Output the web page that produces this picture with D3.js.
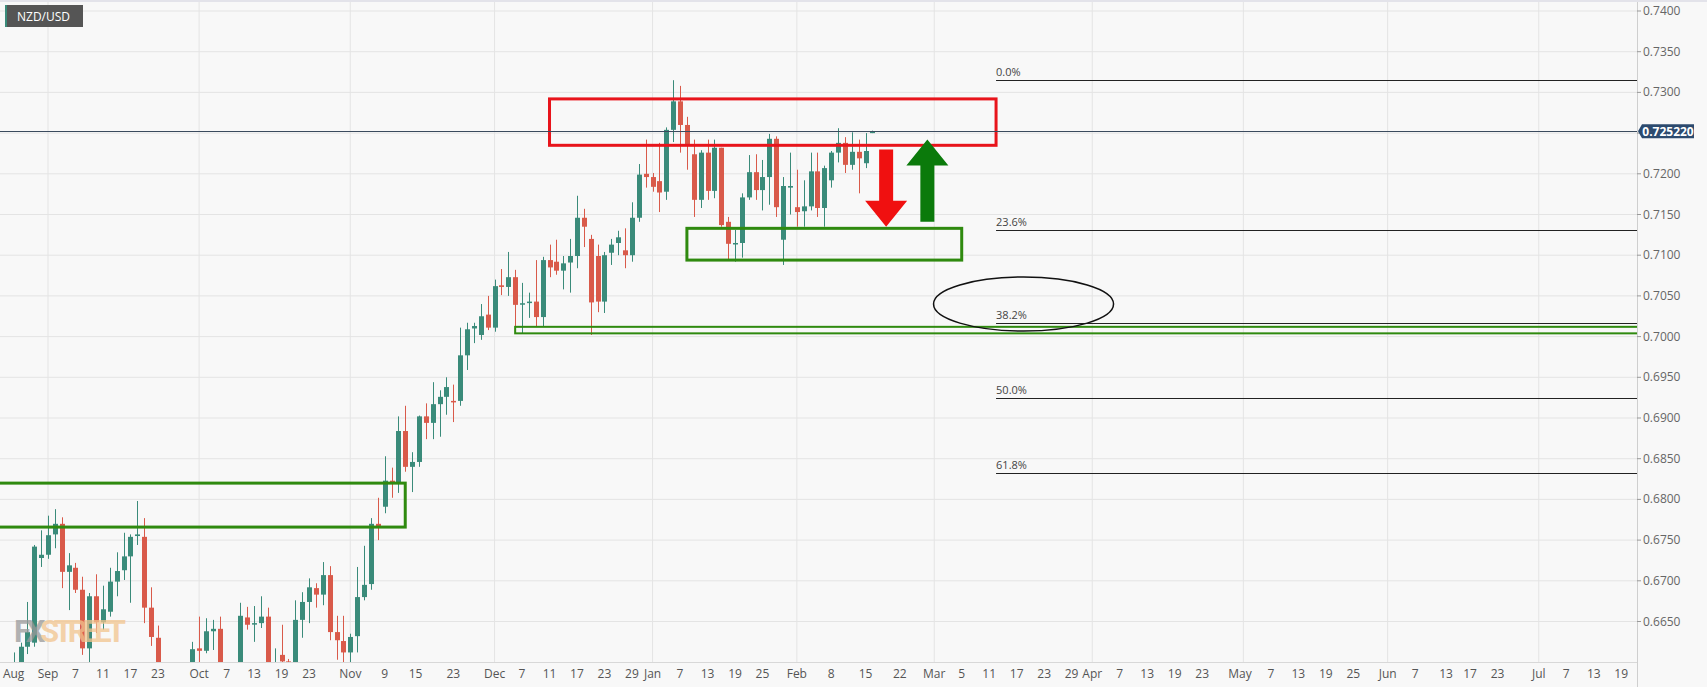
<!DOCTYPE html>
<html>
<head>
<meta charset="utf-8">
<script src="https://cdn.jsdelivr.net/npm/d3@7"></script>
<style>
  body { margin: 0; background: #f8f8f8; font-family: "Open Sans", Arial, sans-serif; }
  svg { display: block; }
</style>
</head>
<body>
<svg id="chart" width="1707" height="687"></svg>
<script>
// daily NZD/USD candles, consecutive weekdays starting Aug 25 2020
const startDate = "2020-08-25";
const opens = [.6585,.6597,.6619,.6624,.6728,.6732,.6757,.6770,.6711,.6716,.6689,.6617,.6681,.6649,.6662,.6699,.6713,.6730,.6755,.6754,
  .6667,.6630,.6590,.6575,.6545,.6560,.6585,.6617,.6614,.6638,.6641,.6590,.6582,.6590,.6655,.6647,.6648,.6656,.6590,.6609,
  .6601,.6595,.6652,.6674,.6691,.6683,.6707,.6637,.6626,.6612,.6632,.6680,.6696,.6770,.6791,.6823,.6821,.6884,.6840,.6846,
  .6902,.6894,.6917,.6926,.6921,.6921,.6977,.7010,.7002,.7027,.7011,.7063,.7061,.7073,.7040,.7042,.7043,.7024,.7094,.7092,
  .7081,.7091,.7099,.7146,.7120,.7099,.7043,.7103,.7115,.7106,.7100,.7146,.7200,.7196,.7191,.7178,.7254,.7289,.7260,.7224,
  .7168,.7226,.7179,.7232,.7141,.7114,.7115,.7171,.7202,.7180,.7196,.7243,.7119,.7183,.7159,.7154,.7160,.7203,.7158,.7192,
  .7226,.7238,.7211,.7227,.7213,.7250];
const highs = [.6612,.6624,.6674,.6744,.6762,.6780,.6788,.6778,.6734,.6722,.6705,.6685,.6708,.6694,.6716,.6735,.6759,.6757,.6798,.6777,
  .6692,.6645,.6598,.6590,.6580,.6595,.6625,.6656,.6654,.6652,.6656,.6598,.6596,.6673,.6668,.6669,.6681,.6667,.6617,.6646,
  .6604,.6676,.6686,.6703,.6697,.6723,.6718,.6657,.6657,.6635,.6717,.6743,.6777,.6802,.6853,.6839,.6902,.6915,.6858,.6903,
  .6918,.6944,.6934,.6950,.6941,.7011,.7017,.7017,.7040,.7050,.7070,.7083,.7104,.7082,.7066,.7054,.7094,.7098,.7113,.7119,
  .7099,.7120,.7173,.7157,.7125,.7113,.7104,.7120,.7130,.7133,.7165,.7212,.7242,.7201,.7238,.7257,.7315,.7308,.7270,.7242,
  .7229,.7242,.7242,.7232,.7147,.7131,.7176,.7223,.7224,.7217,.7249,.7246,.7196,.7226,.7205,.7192,.7226,.7226,.7210,.7228,
  .7256,.7245,.7251,.7242,.7250,.7253];
const lows = [.6570,.6584,.6610,.6619,.6717,.6727,.6740,.6691,.6664,.6685,.6609,.6600,.6636,.6640,.6656,.6681,.6701,.6673,.6744,.6648,
  .6620,.6580,.6560,.6530,.6511,.6550,.6580,.6600,.6611,.6615,.6575,.6565,.6560,.6580,.6640,.6625,.6642,.6580,.6575,.6590,
  .6580,.6590,.6630,.6648,.6667,.6670,.6627,.6603,.6590,.6598,.6612,.6676,.6689,.6750,.6783,.6802,.6808,.6834,.6809,.6840,
  .6874,.6874,.6877,.6904,.6895,.6915,.6959,.6992,.6996,.7008,.7006,.7051,.7050,.7004,.7004,.7023,.7012,.7012,.7073,.7076,
  .7058,.7054,.7084,.7110,.7002,.7030,.7029,.7088,.7100,.7084,.7092,.7141,.7183,.7178,.7153,.7168,.7239,.7226,.7205,.7147,
  .7158,.7168,.7170,.7135,.7095,.7092,.7097,.7168,.7168,.7155,.7162,.7147,.7088,.7150,.7135,.7135,.7155,.7147,.7135,.7183,
  .7214,.7201,.7205,.7176,.7207,.7250];
const closes = [.6600,.6619,.6637,.6742,.6732,.6756,.6770,.6711,.6719,.6689,.6617,.6681,.6649,.6665,.6699,.6712,.6730,.6754,.6757,.6667,
  .6631,.6590,.6575,.6545,.6560,.6585,.6616,.6614,.6638,.6641,.6590,.6582,.6588,.6657,.6646,.6648,.6656,.6590,.6595,.6601,
  .6599,.6652,.6674,.6692,.6683,.6707,.6637,.6627,.6612,.6631,.6680,.6695,.6770,.6766,.6823,.6821,.6884,.6840,.6846,.6902,
  .6894,.6917,.6926,.6938,.6920,.6977,.7009,.7013,.7025,.7011,.7062,.7061,.7073,.7039,.7041,.7043,.7024,.7094,.7085,.7081,
  .7090,.7099,.7146,.7135,.7042,.7043,.7100,.7113,.7122,.7100,.7146,.7199,.7196,.7184,.7177,.7254,.7289,.7260,.7235,.7168,
  .7226,.7179,.7232,.7137,.7114,.7115,.7171,.7202,.7180,.7196,.7243,.7159,.7185,.7185,.7153,.7160,.7203,.7158,.7207,.7226,
  .7238,.7211,.7227,.7219,.7228,.7252];

const yTicks = [0.7400,0.7350,0.7300,0.7250,0.7200,0.7150,0.7100,0.7050,0.7000,0.6950,0.6900,0.6850,0.6800,0.6750,0.6700,0.6650];
const xTicks = [["Aug","2020-08-25"],["Sep","2020-09-01"],["7","2020-09-07"],["11","2020-09-11"],["17","2020-09-17"],["23","2020-09-23"],
  ["Oct","2020-10-01"],["7","2020-10-07"],["13","2020-10-13"],["19","2020-10-19"],["23","2020-10-23"],["Nov","2020-11-02"],
  ["9","2020-11-09"],["15","2020-11-15"],["23","2020-11-23"],["Dec","2020-12-01"],["7","2020-12-07"],["11","2020-12-11"],
  ["17","2020-12-17"],["23","2020-12-23"],["29","2020-12-29"],["Jan","2021-01-01"],["7","2021-01-07"],["13","2021-01-13"],
  ["19","2021-01-19"],["25","2021-01-25"],["Feb","2021-02-01"],["8","2021-02-08"],["15","2021-02-15"],["22","2021-02-22"],
  ["Mar","2021-03-01"],["5","2021-03-05"],["11","2021-03-11"],["17","2021-03-17"],["23","2021-03-23"],["29","2021-03-29"],
  ["Apr","2021-04-01"],["7","2021-04-07"],["13","2021-04-13"],["19","2021-04-19"],["23","2021-04-23"],["May","2021-05-01"],
  ["7","2021-05-07"],["13","2021-05-13"],["19","2021-05-19"],["25","2021-05-25"],["Jun","2021-06-01"],["7","2021-06-07"],
  ["13","2021-06-13"],["17","2021-06-17"],["23","2021-06-23"],["Jul","2021-07-01"],["7","2021-07-07"],["13","2021-07-13"],["19","2021-07-19"]];
const monthLines = ["2020-09-01","2020-10-01","2020-11-02","2020-12-01","2021-01-01","2021-02-01","2021-03-01","2021-04-01","2021-05-03","2021-06-01","2021-07-01"];

const lastPrice = 0.725220;
const fibHigh = 0.7315, fibLow = 0.6535;
const fibRatios = [0, 0.236, 0.382, 0.5, 0.618];
const fibStart = "2021-03-12";
// zones: [fromDate, toDate, top, bottom, colour]
const zones = [
  ["2020-08-10","2020-11-12",0.6820,0.6766,"#2f8a0f"],
  ["2020-12-11","2021-03-12",0.7292,0.7235,"#e8141b"],
  ["2021-01-08","2021-03-05",0.7133,0.7094,"#2f8a0f"],
  ["2020-12-04","2021-08-30",0.7012,0.7004,"#2f8a0f"]
];
// arrows: [date, from, to, colour]
const arrows = [["2021-02-18",0.7230,0.7135,"#f01010"],["2021-02-26",0.7141,0.7242,"#0b7a0b"]];
const ellipse = ["2021-03-18",0.7040];

// weekday index relative to Sep 1 2020
const base = new Date("2020-09-01T00:00:00Z");
function wIndex(s) {
  const d = new Date(s + "T00:00:00Z");
  let n = 0, t = new Date(base);
  const step = d >= base ? 1 : -1;
  while ((step > 0 ? t < d : t > d)) {
    if (step < 0) t.setUTCDate(t.getUTCDate() - 1);
    const wd = t.getUTCDay();
    if (wd !== 0 && wd !== 6) n += step;
    if (step > 0) t.setUTCDate(t.getUTCDate() + 1);
  }
  const wd = d.getUTCDay();
  if (wd === 0 || wd === 6) n -= 0.5;
  return n;
}
const startIdx = wIndex(startDate);
const candles = opens.map((o, k) => ({ i: startIdx + k, o, h: highs[k], l: lows[k], c: closes[k] }));

const W = 1707, H = 687, plotR = 1637, plotB = 662;
const svg = d3.select("#chart");
const x = d3.scaleLinear().domain([0, 229]).range([48, 48 + 229 * 6.87]);
const y = d3.scaleLinear().domain([0.74, 0.70]).range([11, 336.6]);

svg.append("rect").attr("width", plotR).attr("height", plotB).attr("fill", "#f8f8f8");
svg.append("defs").append("clipPath").attr("id", "clip")
  .append("rect").attr("width", plotR).attr("height", plotB);
const g = svg.append("g").attr("clip-path", "url(#clip)");

// grid
g.selectAll(".hg").data(yTicks).enter().append("line")
  .attr("x1", 0).attr("x2", plotR).attr("y1", d => y(d)).attr("y2", d => y(d))
  .attr("stroke", "#e4e4e4");
g.selectAll(".vg").data(monthLines).enter().append("line")
  .attr("y1", 0).attr("y2", plotB).attr("x1", d => x(wIndex(d))).attr("x2", d => x(wIndex(d)))
  .attr("stroke", "#e4e4e4");

// watermark
const wm = svg.append("text").attr("x", 14).attr("y", 642)
  .attr("font-family", "Roboto, sans-serif").attr("font-weight", "bold").attr("font-size", 31)
  .attr("opacity", 0.75).attr("textLength", 112);
wm.append("tspan").attr("fill", "#9a9a9a").text("FX");
wm.append("tspan").attr("fill", "#f2c48e").text("STREET");

// candles
const up = "#3a8b7a", dn = "#d95a4a";
const cg = g.selectAll(".c").data(candles).enter().append("g");
cg.append("line")
  .attr("x1", d => Math.round(x(d.i)) + 0.5).attr("x2", d => Math.round(x(d.i)) + 0.5)
  .attr("y1", d => y(d.h)).attr("y2", d => y(d.l))
  .attr("stroke", d => d.c >= d.o ? up : dn);
cg.append("rect")
  .attr("x", d => Math.round(x(d.i)) - 2).attr("width", 5)
  .attr("y", d => y(Math.max(d.o, d.c)))
  .attr("height", d => Math.max(1.5, Math.abs(y(d.o) - y(d.c))))
  .attr("fill", d => d.c >= d.o ? up : dn);

// fib lines
fibRatios.forEach(r => {
  const v = fibHigh - r * (fibHigh - fibLow);
  g.append("line").attr("x1", x(wIndex(fibStart))).attr("x2", plotR)
    .attr("y1", Math.round(y(v)) + 0.5).attr("y2", Math.round(y(v)) + 0.5).attr("stroke", "#222");
  g.append("text").attr("x", x(wIndex(fibStart))).attr("y", y(v) - 4)
    .attr("font-size", 11).attr("fill", "#444").text((r * 100).toFixed(1) + "%");
});

// zones
zones.forEach(z => {
  const x0 = x(wIndex(z[0])), x1 = x(wIndex(z[1]));
  const thin = (z[2] - z[3]) < 0.001;
  g.append("rect").attr("x", x0).attr("y", y(z[2])).attr("width", x1 - x0).attr("height", y(z[3]) - y(z[2]))
    .attr("fill", "none").attr("stroke", z[4]).attr("stroke-width", thin ? 2 : 3);
});

// current price line
g.append("line").attr("x1", 0).attr("x2", plotR).attr("y1", Math.round(y(lastPrice)) + 0.5).attr("y2", Math.round(y(lastPrice)) + 0.5)
  .attr("stroke", "#3b4b5e");

// arrows
arrows.forEach(a => {
  const cx = x(wIndex(a[0])), y0 = y(a[1]), y1 = y(a[2]);
  const dir = y1 > y0 ? 1 : -1, head = 26, sw = 7, hw = 21;
  const yb = y1 - dir * head;
  const pts = [[cx - sw, y0], [cx + sw, y0], [cx + sw, yb], [cx + hw, yb], [cx, y1], [cx - hw, yb], [cx - sw, yb]];
  g.append("polygon").attr("points", pts.map(p => p.join(",")).join(" ")).attr("fill", a[3]);
});

// ellipse
g.append("ellipse").attr("cx", x(wIndex(ellipse[0]))).attr("cy", y(ellipse[1]))
  .attr("rx", 90).attr("ry", 27).attr("fill", "none").attr("stroke", "#111").attr("stroke-width", 1.5);

// axes frame
svg.append("line").attr("x1", plotR + 0.5).attr("x2", plotR + 0.5).attr("y1", 0).attr("y2", H).attr("stroke", "#cfcfcf");
svg.append("line").attr("x1", 0).attr("x2", plotR).attr("y1", plotB + 0.5).attr("y2", plotB + 0.5).attr("stroke", "#d8d8d8");
svg.append("rect").attr("width", W).attr("height", 2).attr("fill", "#e3e3ea");

const yAxis = svg.selectAll(".yt").data(yTicks).enter().append("g");
yAxis.append("line").attr("x1", plotR).attr("x2", plotR + 4).attr("y1", d => y(d)).attr("y2", d => y(d)).attr("stroke", "#999");
yAxis.append("text").attr("x", plotR + 6).attr("y", d => y(d) + 4).attr("font-size", 12).attr("fill", "#666")
  .text(d => d.toFixed(4));

svg.selectAll(".xt").data(xTicks).enter().append("text")
  .attr("x", d => x(wIndex(d[1]))).attr("y", 678).attr("text-anchor", "middle")
  .attr("font-size", 12).attr("fill", "#555").text(d => d[0]);

// price tag
const py = y(lastPrice);
svg.append("path").attr("d", `M${plotR + 1},${py} L${plotR + 5},${py - 7} L${plotR + 57},${py - 7} L${plotR + 57},${py + 7} L${plotR + 5},${py + 7} Z`)
  .attr("fill", "#2c4a6e");
svg.append("text").attr("x", plotR + 31).attr("y", py + 4.5).attr("text-anchor", "middle")
  .attr("font-size", 12).attr("font-weight", "bold").attr("fill", "#fff").text(lastPrice.toFixed(6));

// symbol label
svg.append("rect").attr("x", 5).attr("y", 5).attr("width", 78).attr("height", 22).attr("fill", "#555");
svg.append("rect").attr("x", 5).attr("y", 5).attr("width", 2).attr("height", 22).attr("fill", "#3a8b7a");
svg.append("text").attr("x", 17).attr("y", 21).attr("font-size", 12).attr("fill", "#fff").text("NZD/USD");
</script>
</body>
</html>
